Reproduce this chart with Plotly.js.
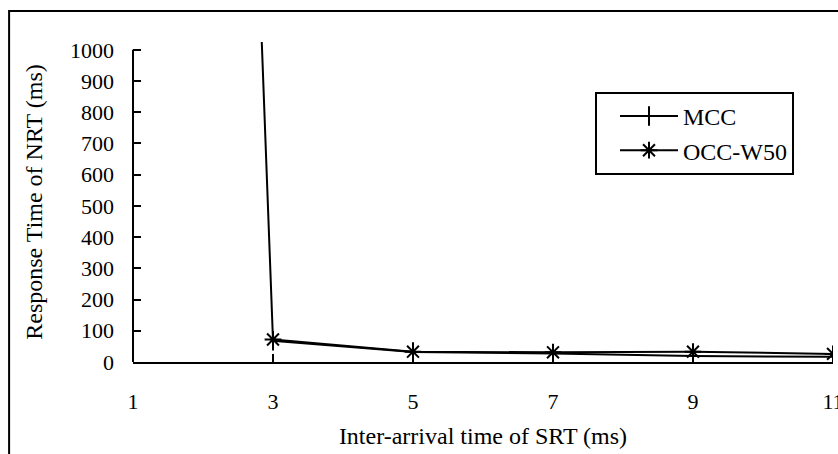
<!DOCTYPE html>
<html>
<head>
<meta charset="utf-8">
<script src="https://cdn.plot.ly/plotly-3.0.1.min.js"></script>
<style>html,body{margin:0;padding:0;background:#fff;}#chart{width:838px;height:454px;}</style>
</head>
<body>
<div id="chart"></div>
<script>
var xValues = [1, 3, 5, 7, 9, 11];
var mccValues = [12000, 68, 32, 27, 19, 17];
var occValues = [null, 72, 33, 31, 33, 26];
var seriesNames = ['MCC', 'OCC-W50'];
var xTicks = [1, 3, 5, 7, 9, 11];
var yTicks = [0, 100, 200, 300, 400, 500, 600, 700, 800, 900, 1000];

var FONT = 'Liberation Serif';

var traces = [
  {x: xValues, y: mccValues, name: seriesNames[0], mode: 'lines+markers',
   line: {color: '#000', width: 2},
   marker: {symbol: 'line-ns-open', size: 14, color: '#000', line: {color: '#000', width: 2}},
   cliponaxis: true},
  {x: xValues, y: occValues, name: seriesNames[1], mode: 'lines+markers',
   line: {color: '#000', width: 2},
   marker: {symbol: 'asterisk-open', size: 14, color: '#000', line: {color: '#000', width: 2}},
   cliponaxis: true}
];

var layout = {
  width: 838, height: 454,
  margin: {l: 133, r: 5, t: 42, b: 92},
  paper_bgcolor: '#fff', plot_bgcolor: '#fff',
  font: {family: FONT, color: '#000', size: 22},
  showlegend: true,
  legend: {x: 0.66, y: 0.844, xanchor: 'left', yanchor: 'top',
           bordercolor: '#000', borderwidth: 2, bgcolor: '#fff',
           font: {family: FONT, size: 24, color: '#000'},
           tracegroupgap: 6, itemwidth: 58, indentation: 18, entrywidth: 212},
  xaxis: {range: [1, 11], tickvals: xTicks, ticktext: xTicks.map(String),
          ticks: 'inside', ticklen: 8, tickwidth: 2, tickcolor: '#000',
          showline: true, linecolor: '#000', linewidth: 2, showgrid: false, zeroline: false,
          ticklabelstandoff: 19, ticklabeloverflow: 'allow',
          tickfont: {family: FONT, size: 22, color: '#000'},
          title: {text: 'Inter-arrival time of SRT (ms)', font: {family: FONT, size: 24, color: '#000'}, standoff: 14}},
  yaxis: {range: [0, 1025], tickvals: yTicks, ticktext: yTicks.map(String),
          ticks: 'inside', ticklen: 8, tickwidth: 2, tickcolor: '#000',
          showline: false, showgrid: false, zeroline: false,
          ticklabelstandoff: 18,
          tickfont: {family: FONT, size: 22, color: '#000'},
          title: {text: 'Response Time of NRT (ms)', font: {family: FONT, size: 24, color: '#000'}, standoff: 20}},
  shapes: [
    {type: 'line', xref: 'paper', yref: 'y', x0: 0, x1: 0, y0: 0, y1: 1000,
     line: {color: '#000', width: 2}},
    {type: 'rect', xref: 'paper', yref: 'paper', x0: -0.177, x1: 1.2, y0: -0.6, y1: 1.097,
     line: {color: '#000', width: 2}, fillcolor: 'rgba(0,0,0,0)'}
  ]
};

Plotly.newPlot('chart', traces, layout, {staticPlot: true, displayModeBar: false});
</script>
</body>
</html>
